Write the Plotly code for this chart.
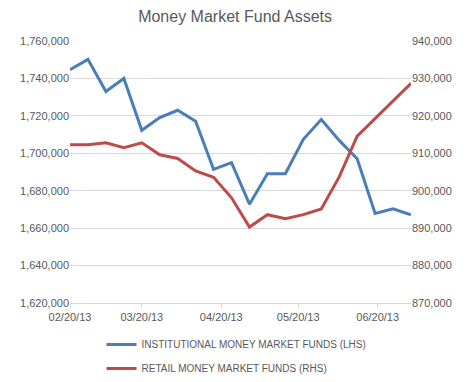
import plotly.graph_objects as go

dates = ["2013-02-20", "2013-02-27", "2013-03-06", "2013-03-13", "2013-03-20",
         "2013-03-27", "2013-04-03", "2013-04-10", "2013-04-17", "2013-04-24",
         "2013-05-01", "2013-05-08", "2013-05-15", "2013-05-22", "2013-05-29",
         "2013-06-05", "2013-06-12", "2013-06-19", "2013-06-26", "2013-07-03"]
institutional = [1744600, 1750200, 1733000, 1740000, 1712300, 1719100, 1723000, 1717100,
                 1691400, 1695000, 1672800, 1689100, 1689100, 1707500, 1718000, 1706900,
                 1697100, 1667900, 1670300, 1667100]
retail = [912300, 912300, 912800, 911500, 912800, 909600, 908600, 905300, 903600, 898100,
          890300, 893600, 892500, 893600, 895100, 903700, 914600, 919300, 924000, 928700]
xtick_vals = ["2013-02-20", "2013-03-20", "2013-04-20", "2013-05-20", "2013-06-20"]
xtick_text = ["02/20/13", "03/20/13", "04/20/13", "05/20/13", "06/20/13"]
left_ticks = list(range(1620000, 1760001, 20000))
right_ticks = list(range(870000, 940001, 10000))

fig = go.Figure()
fig.add_trace(go.Scatter(x=dates, y=institutional, mode="lines",
                         name="INSTITUTIONAL MONEY MARKET FUNDS (LHS)",
                         legendgroup="a",
                         line=dict(color="#4a7ebb", width=3)))
fig.add_trace(go.Scatter(x=dates, y=retail, mode="lines", yaxis="y2",
                         name="RETAIL MONEY MARKET FUNDS (RHS)",
                         legendgroup="b",
                         line=dict(color="#be4b48", width=3)))

font_fam = "Liberation Sans, Arial, sans-serif"
grey = "#595959"
fig.update_layout(
    template="none",
    width=473, height=382,
    margin=dict(l=70, r=62, t=41, b=79, autoexpand=False),
    paper_bgcolor="white", plot_bgcolor="white",
    font=dict(family=font_fam, size=11, color=grey),
    title=dict(text="Money Market Fund Assets", x=0.497, xanchor="center",
               xref="container", yref="container",
               y=1 - 16 / 382, yanchor="middle",
               font=dict(family=font_fam, size=16, color=grey)),
    xaxis=dict(type="date", range=["2013-02-20", "2013-07-03"],
               tickvals=xtick_vals, ticktext=xtick_text, automargin=False,
               showgrid=False, showline=True, linecolor="#d9d9d9", linewidth=1,
               ticks="outside", ticklen=4, tickcolor="#d9d9d9",
               zeroline=False,
               tickfont=dict(size=11, color=grey)),
    yaxis=dict(range=[1620000, 1760000], tickvals=left_ticks, automargin=False,
               tickformat=",d", showgrid=True, gridcolor="#d9d9d9", gridwidth=1,
               zeroline=False, showline=False, ticks="", tickfont=dict(size=11, color=grey)),
    yaxis2=dict(range=[870000, 940000], tickvals=right_ticks, tickformat=",d",
                automargin=False,
                overlaying="y", side="right", showgrid=False, zeroline=False,
                showline=False, ticks="", tickfont=dict(size=11, color=grey)),
    legend=dict(orientation="v", x=0.5, xanchor="center", xref="container",
                yref="container", y=1 - 330 / 382, yanchor="top",
                font=dict(size=10, color=grey), tracegroupgap=5,
                bgcolor="rgba(0,0,0,0)"),
    showlegend=True,
)

fig.write_html("out.html", config={"displayModeBar": False},
               post_script="document.body.style.margin='0';document.body.style.padding='0';")
